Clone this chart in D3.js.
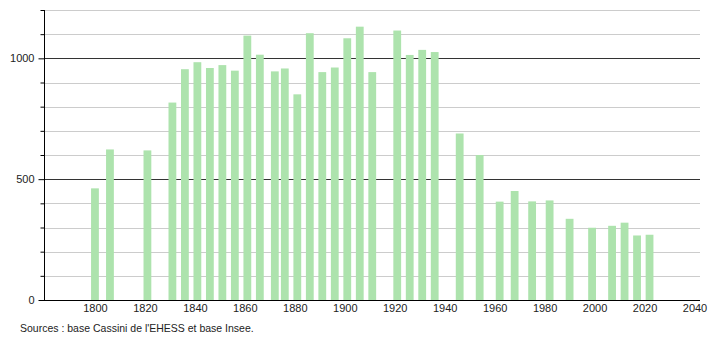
<!DOCTYPE html>
<html>
<head>
<meta charset="utf-8">
<script src="https://cdn.jsdelivr.net/npm/d3@7"></script>
<style>
  body { margin: 0; background: #fff; }
  text { font-family: "Liberation Sans", Arial, sans-serif; }
</style>
</head>
<body>
<div id="chart"></div>
<script>
// census years and population
var years = [1800, 1806, 1821, 1831, 1836, 1841, 1846, 1851, 1856, 1861, 1866, 1872, 1876,
  1881, 1886, 1891, 1896, 1901, 1906, 1911, 1921, 1926, 1931, 1936, 1946, 1954, 1962,
  1968, 1975, 1982, 1990, 1999, 2007, 2012, 2017, 2022];
var population = [462, 623, 619, 817, 955, 984, 960, 972, 949, 1094, 1015, 946, 958,
  851, 1104, 943, 962, 1083, 1131, 943, 1115, 1014, 1035, 1026, 689, 600, 407,
  451, 408, 412, 336, 299, 307, 320, 267, 270];
var xTicks = [1800, 1820, 1840, 1860, 1880, 1900, 1920, 1940, 1960, 1980, 2000, 2020, 2040];
var yTicks = [0, 500, 1000];
var source = "Sources : base Cassini de l'EHESS et base Insee.";

var width = 710, height = 340;
var mLeft = 44, mRight = 700, mTop = 10, mBottom = 300;

var svg = d3.select("#chart")
  .append("svg")
    .attr("width", width)
    .attr("height", height);

var x = d3.scaleLinear()
  .domain([1779.6, 2042.2])
  .range([mLeft, mRight]);

var y = d3.scaleLinear()
  .domain([0, 1200])
  .range([mBottom, mTop]);

// grid lines every 100
svg.append("g")
  .selectAll("line")
  .data(d3.range(100, 1201, 100))
  .enter()
  .append("line")
    .attr("x1", mLeft)
    .attr("x2", mRight)
    .attr("y1", function (d) { return Math.round(y(d)) + 0.5; })
    .attr("y2", function (d) { return Math.round(y(d)) + 0.5; })
    .style("stroke", function (d) { return d % 500 == 0 ? "#333" : "#ccc"; })
    .style("stroke-width", 1);

// bars
var bw = 7.8;
svg.append("g")
  .selectAll("rect")
  .data(years)
  .enter()
  .append("rect")
    .attr("x", function (d) { return x(d) - bw / 2; })
    .attr("y", function (d, i) { return y(population[i]); })
    .attr("width", bw)
    .attr("height", function (d, i) { return mBottom - y(population[i]); })
    .style("fill", "#ade3ad");

// y axis with small ticks every 100
var yAxis = d3.axisLeft(y)
  .tickValues(d3.range(0, 1201, 100))
  .tickSize(4)
  .tickFormat(function (d) { return yTicks.indexOf(d) >= 0 ? d : ""; });
var gy = svg.append("g")
  .attr("transform", "translate(" + (mLeft + 0.5) + ",0)")
  .call(yAxis);
gy.select(".domain").attr("d", "M0," + mTop + "V" + (mBottom + 0.5));
gy.selectAll(".tick line")
  .attr("x2", function (d) { return d % 500 == 0 ? -6 : -4; });
gy.selectAll("text")
  .attr("x", -10)
  .style("font-size", "11px")
  .style("fill", "#222");

// x axis, labels only
var xAxis = d3.axisBottom(x)
  .tickValues(xTicks)
  .tickSize(0)
  .tickFormat(d3.format("d"));
var gx = svg.append("g")
  .attr("transform", "translate(0," + (mBottom + 0.5) + ")")
  .call(xAxis);
gx.select(".domain").attr("d", "M" + mLeft + ",0H" + mRight);
gx.selectAll("text")
  .attr("y", 4)
  .style("font-size", "11px")
  .style("fill", "#222");

svg.append("text")
  .attr("x", 20)
  .attr("y", 332)
  .style("font-size", "10.5px")
  .style("fill", "#222")
  .text(source);
</script>
</body>
</html>
